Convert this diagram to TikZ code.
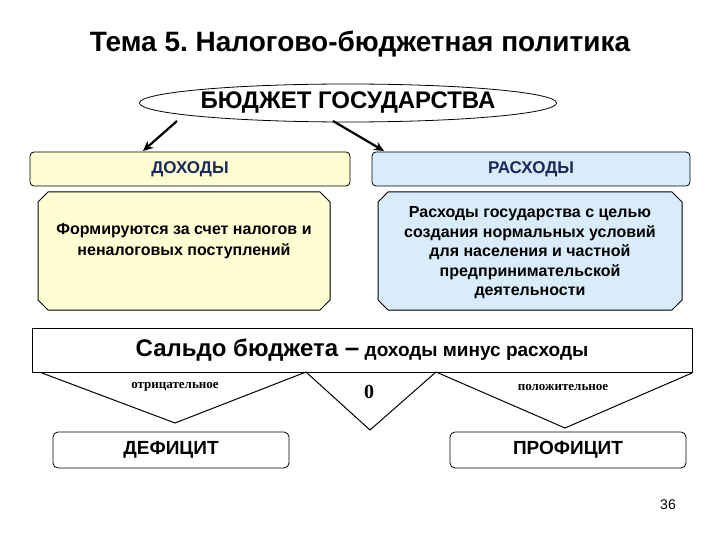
\documentclass[tikz,border=0pt]{standalone}
\usepackage{fontspec}
\setmainfont{Liberation Sans}
\newfontfamily\serifL{Liberation Serif}
\usetikzlibrary{shapes.geometric,arrows.meta}
\definecolor{yel}{HTML}{FFFDD2}
\definecolor{blu}{HTML}{D8ECFA}
\definecolor{navy}{HTML}{1A2A5A}
\frenchspacing
\tikzset{
 hdr/.style={draw,rounded corners=4pt,line width=0.8pt,minimum height=34pt,text=navy,font=\bfseries\fontsize{17}{19}\selectfont},
 res/.style={draw,rounded corners=5pt,line width=0.8pt,minimum width=236pt,minimum height=36pt,font=\bfseries\fontsize{19}{21}\selectfont},
 arr/.style={-{Stealth[length=10pt,width=9pt]},line width=2.2pt},
 small/.style={font=\serifL\bfseries\fontsize{13}{14}\selectfont}
}
\begin{document}
\begin{tikzpicture}[x=1pt,y=-1pt]
\useasboundingbox[fill=white] (0,0) rectangle (720,540);
\node[font=\bfseries\fontsize{28}{30}\selectfont] (title) at (360,44) {Тема 5. Налогово-бюджетная политика};
\node[draw,ellipse,line width=0.8pt,minimum width=400pt,minimum height=38pt,inner sep=0pt,font=\bfseries\fontsize{24}{26}\selectfont] (bud) at (348,103) {БЮДЖЕТ ГОСУДАРСТВА};
\node[hdr,fill=yel,minimum width=320pt] (inc) at (190,169) {ДОХОДЫ};
\node[hdr,fill=blu,minimum width=318pt] (exp) at (531,169) {РАСХОДЫ};
\coordinate (a1) at (177,121);
\coordinate (a2) at (333,121);
\draw[arr] (a1) -- (143,151) coordinate (inct);
\draw[arr] (a2) -- (384,151) coordinate (expt);
\draw[line width=1pt,fill=yel] (48,192) -- (320,192) -- (330,202) -- (330,300) -- (320,310) -- (48,310) -- (38,300) -- (38,202) -- cycle;
\node[font=\bfseries\fontsize{16}{21}\selectfont,align=center] (incb) at (184,241) {Формируются за счет налогов и\\неналоговых поступлений};
\draw[line width=1pt,fill=blu] (388,192) -- (672,192) -- (682,202) -- (682,300) -- (672,310) -- (388,310) -- (378,300) -- (378,202) -- cycle;
\node[font=\bfseries\fontsize{16}{19.5}\selectfont,align=center] (expb) at (530,253) {Расходы государства с целью\\создания нормальных условий\\для населения и частной\\предпринимательской\\деятельности};
\node[draw,line width=0.8pt,minimum width=660pt,minimum height=44pt] (sal) at (362,350) {\bfseries\fontsize{24}{26}\selectfont Сальдо бюджета \fontsize{26}{26}\selectfont –\fontsize{19}{21}\selectfont\ доходы минус расходы};
\draw[line width=1pt] (42,373) -- (175,423) -- (306,372) -- (370,430) -- (436,372) -- (565,428) -- (692,373);
\node[small] (neg) at (175,387) {отрицательное};
\node[font=\serifL\bfseries\fontsize{20}{22}\selectfont] (zero) at (369,392) {0};
\node[small] (pos) at (563,387) {положительное};
\node[res] (def) at (171,450) {ДЕФИЦИТ};
\node[res] (pro) at (568,450) {ПРОФИЦИТ};
\node[font=\fontsize{14}{16}\selectfont] (pg) at (668,505) {36};
\end{tikzpicture}
\end{document}
